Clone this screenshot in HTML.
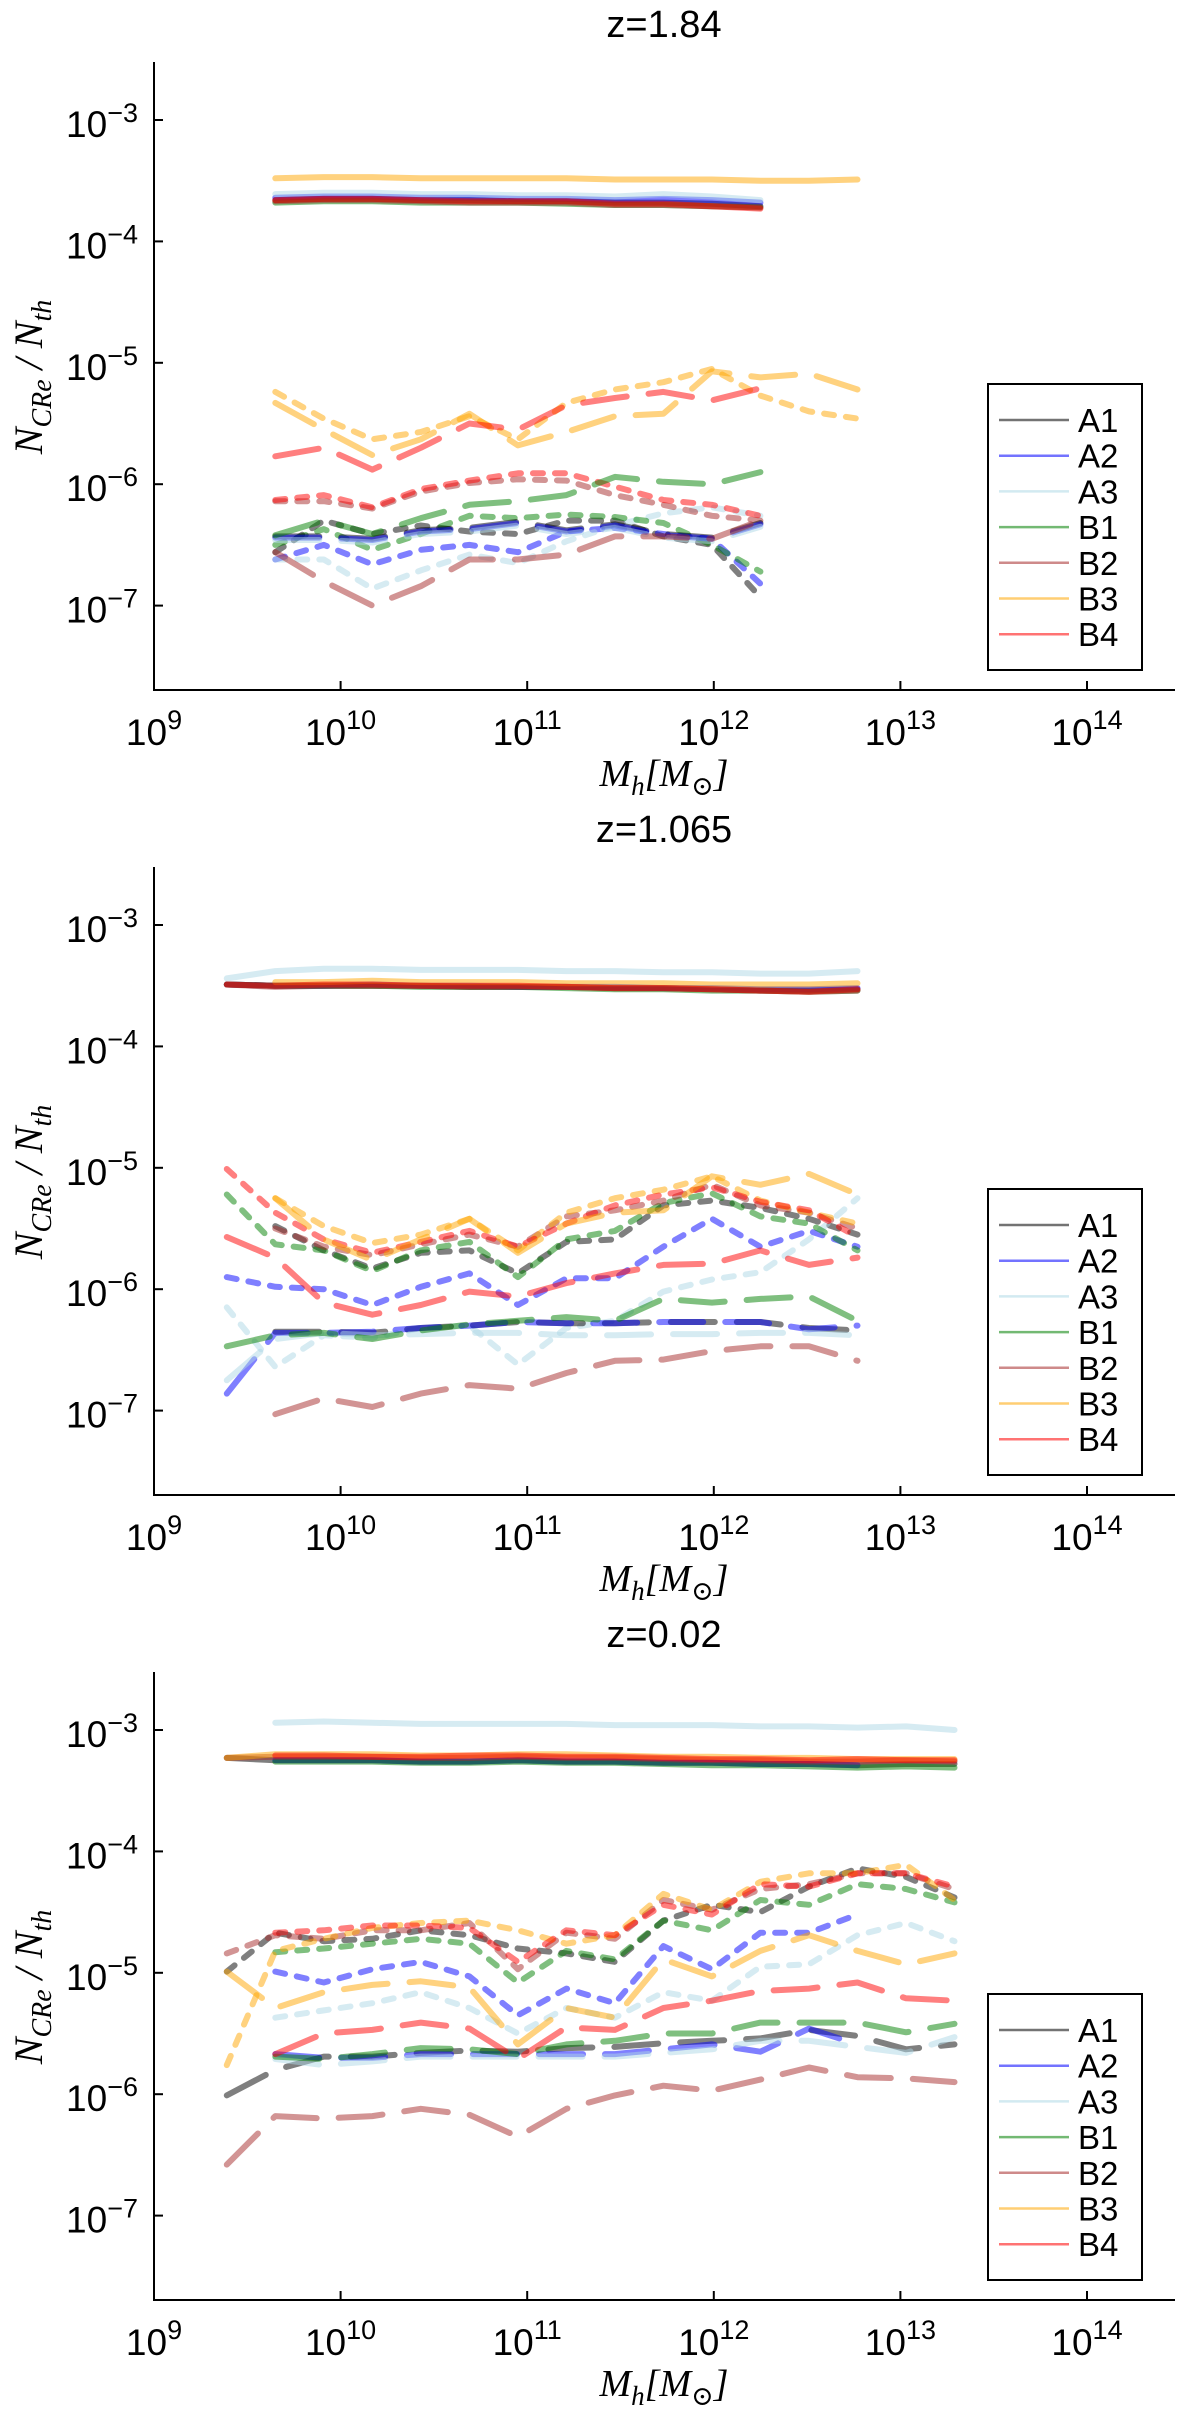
<!DOCTYPE html>
<html><head><meta charset="utf-8"><style>
html,body{margin:0;padding:0;background:#fff;}
svg{display:block;}
text{font-family:"Liberation Sans","DejaVu Sans",sans-serif;fill:#000;}
.serif{font-family:"Liberation Serif","DejaVu Serif",serif;font-style:italic;}
</style></head><body>
<svg id="fig" width="1200" height="2410" viewBox="0 0 1200 2410" xmlns="http://www.w3.org/2000/svg"></svg>
<script>
// ---- data ----
const logMass = [9.39,9.65,9.91,10.17,10.43,10.69,10.95,11.21,11.47,11.73,11.99,12.25,12.51,12.77,13.03,13.29];
const models = ["A1","A2","A3","B1","B2","B3","B4"];
const titles = ["z=1.84","z=1.065","z=0.02"];
const xTickExps = [9,10,11,12,13,14];
const yTickExps = [-3,-4,-5,-6,-7];

// panel 1 (z=1.84): start index into logMass, values = log10(N_CRe/N_th)
const p1SolidStart = {A1:1,A2:1,A3:1,B1:1,B2:1,B3:1,B4:1};
const p1Solid = {
 A1:[-3.66,-3.65,-3.65,-3.66,-3.66,-3.67,-3.67,-3.68,-3.68,-3.69,-3.71],
 A2:[-3.64,-3.63,-3.63,-3.64,-3.64,-3.65,-3.65,-3.66,-3.65,-3.66,-3.68],
 A3:[-3.61,-3.60,-3.60,-3.61,-3.61,-3.62,-3.62,-3.63,-3.61,-3.63,-3.66],
 B1:[-3.68,-3.67,-3.67,-3.68,-3.68,-3.68,-3.69,-3.70,-3.70,-3.71,-3.72],
 B2:[-3.67,-3.66,-3.66,-3.67,-3.68,-3.68,-3.68,-3.70,-3.70,-3.71,-3.72],
 B3:[-3.48,-3.47,-3.47,-3.48,-3.48,-3.48,-3.48,-3.49,-3.49,-3.49,-3.50,-3.50,-3.49],
 B4:[-3.66,-3.65,-3.65,-3.66,-3.67,-3.67,-3.67,-3.69,-3.69,-3.71,-3.73]};
const p1LongStart = {A1:1,A2:1,A3:1,B1:1,B2:1,B3:1,B4:1};
const p1Long = {
 A1:[-6.43,-6.43,-6.45,-6.38,-6.36,-6.31,-6.38,-6.33,-6.41,-6.44,-6.32],
 A2:[-6.44,-6.44,-6.46,-6.39,-6.37,-6.32,-6.39,-6.34,-6.42,-6.45,-6.33],
 A3:[-6.46,-6.46,-6.48,-6.41,-6.39,-6.34,-6.41,-6.36,-6.44,-6.47,-6.35],
 B1:[-6.42,-6.30,-6.41,-6.28,-6.17,-6.14,-6.09,-5.94,-5.98,-6.00,-5.90],
 B2:[-6.56,-6.80,-7.00,-6.84,-6.62,-6.62,-6.58,-6.43,-6.43,-6.45,-6.30],
 B3:[-5.33,-5.55,-5.76,-5.63,-5.42,-5.68,-5.57,-5.44,-5.42,-5.07,-5.12,-5.09,-5.22],
 B4:[-5.77,-5.70,-5.88,-5.70,-5.50,-5.55,-5.35,-5.29,-5.24,-5.31,-5.21]};
const p1ShortStart = {A1:1,A2:1,A3:1,B1:1,B2:1,B3:1,B4:1};
const p1Short = {
 A1:[-6.56,-6.30,-6.41,-6.34,-6.39,-6.41,-6.30,-6.30,-6.43,-6.50,-6.93],
 A2:[-6.62,-6.50,-6.66,-6.54,-6.50,-6.56,-6.39,-6.36,-6.41,-6.45,-6.82],
 A3:[-6.62,-6.62,-6.86,-6.71,-6.58,-6.65,-6.47,-6.34,-6.24,-6.19,-6.26],
 B1:[-6.50,-6.37,-6.54,-6.41,-6.26,-6.28,-6.25,-6.27,-6.32,-6.50,-6.72],
 B2:[-6.14,-6.14,-6.20,-6.06,-5.99,-5.96,-5.97,-6.09,-6.17,-6.26,-6.30],
 B3:[-5.24,-5.46,-5.63,-5.57,-5.44,-5.63,-5.33,-5.22,-5.16,-5.05,-5.27,-5.40,-5.46],
 B4:[-6.13,-6.09,-6.19,-6.04,-5.97,-5.91,-5.91,-6.02,-6.13,-6.17,-6.26]};

// panel 2 (z=1.065)
const p2SolidStart = {A1:0,A2:0,A3:0,B1:0,B2:0,B3:1,B4:0};
const p2Solid = {
 A1:[-3.49,-3.50,-3.50,-3.50,-3.50,-3.51,-3.51,-3.51,-3.52,-3.52,-3.53,-3.54,-3.54,-3.53],
 A2:[-3.49,-3.50,-3.50,-3.49,-3.50,-3.50,-3.51,-3.51,-3.51,-3.52,-3.52,-3.53,-3.53,-3.52],
 A3:[-3.44,-3.38,-3.36,-3.36,-3.37,-3.37,-3.37,-3.38,-3.38,-3.39,-3.39,-3.40,-3.40,-3.38],
 B1:[-3.49,-3.50,-3.50,-3.50,-3.51,-3.51,-3.51,-3.52,-3.53,-3.53,-3.54,-3.54,-3.55,-3.54],
 B2:[-3.49,-3.51,-3.50,-3.50,-3.50,-3.51,-3.51,-3.51,-3.52,-3.52,-3.53,-3.54,-3.55,-3.54],
 B3:[-3.47,-3.47,-3.46,-3.47,-3.47,-3.47,-3.48,-3.48,-3.48,-3.49,-3.49,-3.49,-3.48],
 B4:[-3.49,-3.50,-3.49,-3.49,-3.50,-3.50,-3.50,-3.51,-3.52,-3.52,-3.53,-3.54,-3.55,-3.53]};
const p2LongStart = {A1:1,A2:0,A3:0,B1:0,B2:1,B3:1,B4:0};
const p2Long = {
 A1:[-6.35,-6.35,-6.36,-6.32,-6.30,-6.27,-6.28,-6.28,-6.27,-6.27,-6.27,-6.32,-6.34],
 A2:[-6.86,-6.36,-6.36,-6.35,-6.32,-6.30,-6.27,-6.28,-6.28,-6.27,-6.27,-6.27,-6.33,-6.30],
 A3:[-6.75,-6.41,-6.36,-6.38,-6.37,-6.36,-6.36,-6.38,-6.38,-6.37,-6.37,-6.36,-6.36,-6.38],
 B1:[-6.47,-6.38,-6.36,-6.41,-6.34,-6.29,-6.26,-6.23,-6.26,-6.08,-6.11,-6.08,-6.06,-6.26],
 B2:[-7.03,-6.90,-6.97,-6.86,-6.79,-6.82,-6.69,-6.59,-6.58,-6.51,-6.47,-6.47,-6.59],
 B3:[-5.25,-5.59,-5.76,-5.59,-5.42,-5.70,-5.46,-5.37,-5.35,-5.07,-5.14,-5.05,-5.22],
 B4:[-5.57,-5.74,-6.11,-6.21,-6.13,-6.02,-6.06,-5.95,-5.87,-5.80,-5.79,-5.68,-5.80,-5.74]};
const p2ShortStart = {A1:1,A2:0,A3:0,B1:0,B2:1,B3:1,B4:0};
const p2Short = {
 A1:[-5.48,-5.68,-5.83,-5.70,-5.68,-5.87,-5.61,-5.59,-5.31,-5.27,-5.33,-5.42,-5.55],
 A2:[-5.90,-5.98,-6.00,-6.13,-5.98,-5.87,-6.13,-5.91,-5.91,-5.65,-5.42,-5.65,-5.52,-5.65],
 A3:[-6.15,-6.64,-6.38,-6.40,-6.32,-6.30,-6.62,-6.32,-6.26,-6.02,-5.92,-5.86,-5.59,-5.25],
 B1:[-5.22,-5.63,-5.68,-5.85,-5.68,-5.61,-5.90,-5.59,-5.52,-5.29,-5.21,-5.40,-5.46,-5.68],
 B2:[-5.50,-5.65,-5.72,-5.63,-5.55,-5.65,-5.40,-5.35,-5.27,-5.14,-5.31,-5.37,-5.50],
 B3:[-5.25,-5.48,-5.62,-5.55,-5.42,-5.68,-5.37,-5.25,-5.18,-5.07,-5.27,-5.37,-5.46],
 B4:[-5.01,-5.37,-5.59,-5.70,-5.61,-5.52,-5.65,-5.46,-5.31,-5.22,-5.16,-5.28,-5.35,-5.57]};

// panel 3 (z=0.02)
const p3SolidStart = {A1:0,A2:1,A3:1,B1:1,B2:0,B3:0,B4:1};
const p3Solid = {
 A1:[-3.23,-3.25,-3.25,-3.25,-3.26,-3.26,-3.25,-3.26,-3.26,-3.27,-3.27,-3.28,-3.28,-3.29,-3.28,-3.28],
 A2:[-3.25,-3.25,-3.25,-3.26,-3.26,-3.25,-3.26,-3.26,-3.27,-3.27,-3.28,-3.28,-3.29],
 A3:[-2.94,-2.93,-2.94,-2.95,-2.95,-2.95,-2.95,-2.96,-2.96,-2.96,-2.97,-2.97,-2.98,-2.97,-3.00],
 B1:[-3.26,-3.26,-3.26,-3.27,-3.27,-3.26,-3.27,-3.27,-3.28,-3.29,-3.29,-3.30,-3.31,-3.30,-3.31],
 B2:[-3.23,-3.22,-3.22,-3.22,-3.23,-3.23,-3.22,-3.23,-3.23,-3.24,-3.25,-3.25,-3.26,-3.26,-3.25,-3.26],
 B3:[-3.23,-3.20,-3.20,-3.20,-3.21,-3.21,-3.20,-3.20,-3.21,-3.22,-3.22,-3.23,-3.23,-3.24,-3.24,-3.24],
 B4:[-3.21,-3.21,-3.22,-3.22,-3.21,-3.21,-3.22,-3.22,-3.23,-3.24,-3.24,-3.25,-3.24,-3.25,-3.25]};
const p3LongStart = {A1:0,A2:1,A3:1,B1:1,B2:0,B3:0,B4:1};
const p3Long = {
 A1:[-6.01,-5.80,-5.69,-5.69,-5.66,-5.64,-5.65,-5.62,-5.61,-5.58,-5.56,-5.54,-5.47,-5.52,-5.63,-5.59],
 A2:[-5.67,-5.70,-5.70,-5.67,-5.67,-5.67,-5.67,-5.67,-5.63,-5.59,-5.65,-5.46,-5.59],
 A3:[-5.71,-5.76,-5.73,-5.69,-5.69,-5.69,-5.69,-5.69,-5.66,-5.63,-5.56,-5.56,-5.61,-5.66,-5.53],
 B1:[-5.69,-5.71,-5.67,-5.62,-5.63,-5.67,-5.59,-5.56,-5.50,-5.50,-5.41,-5.41,-5.41,-5.49,-5.42],
 B2:[-6.58,-6.18,-6.20,-6.18,-6.12,-6.17,-6.35,-6.12,-6.01,-5.93,-5.97,-5.88,-5.78,-5.86,-5.87,-5.90],
 B3:[-4.99,-5.29,-5.16,-5.10,-5.07,-5.12,-5.59,-5.29,-5.37,-4.89,-5.03,-4.82,-4.69,-4.82,-4.93,-4.84],
 B4:[-5.67,-5.50,-5.47,-5.41,-5.46,-5.71,-5.45,-5.47,-5.29,-5.23,-5.15,-5.13,-5.08,-5.21,-5.23]};
const p3ShortStart = {A1:0,A2:1,A3:1,B1:1,B2:0,B3:0,B4:1};
const p3Short = {
 A1:[-4.99,-4.67,-4.74,-4.72,-4.65,-4.69,-4.80,-4.84,-4.91,-4.57,-4.44,-4.50,-4.29,-4.14,-4.21,-4.38],
 A2:[-4.99,-5.08,-4.97,-4.91,-5.03,-5.35,-5.13,-5.25,-4.78,-4.97,-4.67,-4.67,-4.52],
 A3:[-5.37,-5.31,-5.25,-5.16,-5.29,-5.50,-5.29,-5.37,-5.16,-5.23,-4.95,-4.93,-4.69,-4.59,-4.74],
 B1:[-4.83,-4.80,-4.76,-4.72,-4.76,-5.08,-4.82,-4.89,-4.57,-4.65,-4.40,-4.44,-4.27,-4.31,-4.42],
 B2:[-4.84,-4.69,-4.72,-4.65,-4.65,-4.59,-4.97,-4.67,-4.72,-4.40,-4.48,-4.31,-4.27,-4.18,-4.18,-4.31],
 B3:[-5.76,-4.82,-4.72,-4.63,-4.59,-4.57,-4.65,-4.76,-4.69,-4.35,-4.48,-4.25,-4.18,-4.18,-4.11,-4.40],
 B4:[-4.67,-4.65,-4.61,-4.61,-4.63,-4.91,-4.65,-4.69,-4.44,-4.52,-4.27,-4.29,-4.18,-4.18,-4.29]};

const panels = [
 {solid:p1Solid,solidStart:p1SolidStart,long:p1Long,longStart:p1LongStart,short:p1Short,shortStart:p1ShortStart},
 {solid:p2Solid,solidStart:p2SolidStart,long:p2Long,longStart:p2LongStart,short:p2Short,shortStart:p2ShortStart},
 {solid:p3Solid,solidStart:p3SolidStart,long:p3Long,longStart:p3LongStart,short:p3Short,shortStart:p3ShortStart}];

// ---- styling ----
const colors = {A1:"#000000",A2:"#0000ff",A3:"#add8e6",B1:"#008000",B2:"#a52a2a",B3:"#ffa500",B4:"#ff0000"};
const NS = "http://www.w3.org/2000/svg";
const svg = document.getElementById("fig");
const PANEL_H = 805, X0 = 154, DEC_X = 186.6, Y3 = 120, DEC_Y = 121.4;
const AX_TOP = 62, AX_BOT = 690, AX_RIGHT = 1175;
function xs(lm){ return X0 + (lm - 9) * DEC_X; }
function ys(v, p){ return p*PANEL_H + Y3 + (-3 - v) * DEC_Y; }
function mk(tag, attrs, parent){
  const e = document.createElementNS(NS, tag);
  for (const k in attrs) e.setAttribute(k, attrs[k]);
  (parent||svg).appendChild(e);
  return e;
}

panels.forEach((pd, p) => {
  const off = p*PANEL_H;
  const g = mk("g", {});
  
  

  const t = mk("text", {x:664, y:off+37, "text-anchor":"middle", "font-size":38}, g);
  t.textContent = titles[p];
  
  

  const styles = [["short","10,12"],["long","44,22"],["solid",""]];
  styles.forEach(([st, dash]) => {
    const data = pd[st], starts = pd[st+"Start"];
    models.forEach(m => {
      const vals = data[m];
      const pts = vals.map((v,i) => xs(logMass[starts[m]+i]).toFixed(1)+","+ys(v,p).toFixed(1)).join(" ");
      const a = {points:pts, fill:"none", stroke:colors[m], "stroke-opacity":0.5, "stroke-width":6, "stroke-linejoin":"round", "stroke-linecap":"round"};
      if (dash) a["stroke-dasharray"] = dash;
      const pl = mk("polyline", a, g);
      
      
    });
  });

  const ax = mk("path", {d:`M${X0},${off+AX_TOP} V${off+AX_BOT} H${AX_RIGHT}`, fill:"none", stroke:"#000", "stroke-width":2}, g);
  
  

  xTickExps.forEach(e => {
    const x = xs(e);
    const tk = mk("line", {x1:x, x2:x, y1:off+AX_BOT, y2:off+AX_BOT-9, stroke:"#000", "stroke-width":2}, g);
    
    
    const lab = mk("text", {x:x, y:off+745, "text-anchor":"middle", "font-size":37}, g);
    
    
    const b = mk("tspan", {}, lab); b.textContent = "10";
    const s = mk("tspan", {dy:-16, "font-size":27}, lab); s.textContent = String(e);
  });
  yTickExps.forEach(e => {
    const y = ys(e, p);
    const tk = mk("line", {x1:X0, x2:X0+9, y1:y, y2:y, stroke:"#000", "stroke-width":2}, g);
    
    
    const lab = mk("text", {x:138, y:y+17, "text-anchor":"end", "font-size":37}, g);
    
    
    const b = mk("tspan", {}, lab); b.textContent = "10";
    const s = mk("tspan", {dy:-15, "font-size":27}, lab); s.textContent = "\u2212" + Math.abs(e);
  });

  const yl = mk("text", {x:0, y:0, "text-anchor":"middle", "font-size":40, class:"serif", transform:`translate(42,${off+377}) rotate(-90)`}, g);
  
  
  yl.innerHTML = 'N<tspan dy="9" font-size="28">CRe</tspan><tspan dy="-9"> / N</tspan><tspan dy="9" font-size="28">th</tspan>';
  const xl = mk("text", {x:664, y:off+786, "text-anchor":"middle", "font-size":38, class:"serif"}, g);
  
  
  xl.innerHTML = 'M<tspan dy="9" font-size="27">h</tspan><tspan dy="-9">[M</tspan><tspan dy="9" font-size="27">\u2299</tspan><tspan dy="-9">]</tspan>';

  const lg = mk("g", {}, g);
  
  
  mk("rect", {x:988, y:off+384, width:154, height:286, fill:"#fff", stroke:"#000", "stroke-width":2}, lg);
  models.forEach((m,i) => {
    const y = off + 420 + i*35.7;
    const le = mk("g", {}, lg);
    
    
    mk("line", {x1:999, x2:1069, y1:y, y2:y, stroke:colors[m], "stroke-opacity":0.55, "stroke-width":2.5}, le);
    const tx = mk("text", {x:1078, y:y+12, "font-size":33}, le);
    tx.textContent = m;
  });
});
</script>
</body></html>
